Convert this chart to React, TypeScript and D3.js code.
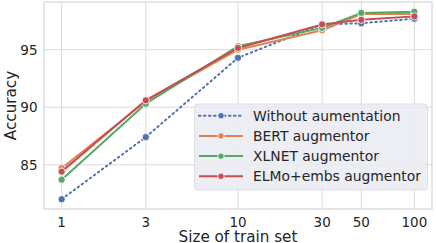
import React, { useEffect, useRef } from 'react';
import * as d3 from 'd3';

const trainSizes = [1, 3, 10, 30, 50, 100];
const withoutAug = [82.0, 87.4, 94.3, 97.2, 97.3, 97.7];
const bertAug = [84.7, 90.5, 95.0, 96.7, 98.1, 98.1];
const xlnetAug = [83.7, 90.3, 95.3, 96.9, 98.2, 98.3];
const elmoAug = [84.4, 90.6, 95.15, 97.2, 97.6, 97.9];
const yTicks = [85, 90, 95];

const series = [
  { name: 'Without aumentation', values: withoutAug, color: '#4C72B0', dash: '1.5,3.5' },
  { name: 'BERT augmentor', values: bertAug, color: '#DD8452', dash: '' },
  { name: 'XLNET augmentor', values: xlnetAug, color: '#55A868', dash: '' },
  { name: 'ELMo+embs augmentor', values: elmoAug, color: '#C44E52', dash: '' },
];

const App: React.FC = () => {
  const svgRef = useRef<SVGSVGElement | null>(null);

  useEffect(() => {
    if (!svgRef.current) return;
    const svg = d3.select(svgRef.current);
    svg.selectAll('*').remove();

    const width = 436;
    const height = 243;
    const margin = { top: 2, right: 4, bottom: 34, left: 44 };
    const font = 'DejaVu Sans, sans-serif';

    const x = d3.scaleLog()
      .domain([Math.pow(10, -0.1), Math.pow(10, 2.1)])
      .range([margin.left, width - margin.right]);
    const y = d3.scaleLinear()
      .domain([81.15, 99.15])
      .range([height - margin.bottom, margin.top]);

    svg.append('rect')
      .attr('x', 0).attr('y', 0).attr('width', width).attr('height', height)
      .attr('fill', '#fff');

    // grid
    const grid = svg.append('g').attr('stroke', '#dcdcdc').attr('stroke-width', 1);
    trainSizes.forEach(t => {
      grid.append('line')
        .attr('x1', x(t)).attr('x2', x(t))
        .attr('y1', margin.top).attr('y2', height - margin.bottom);
    });
    yTicks.forEach(t => {
      grid.append('line')
        .attr('x1', margin.left).attr('x2', width - margin.right)
        .attr('y1', y(t)).attr('y2', y(t));
    });

    // frame
    svg.append('rect')
      .attr('x', margin.left).attr('y', margin.top)
      .attr('width', width - margin.left - margin.right)
      .attr('height', height - margin.top - margin.bottom)
      .attr('fill', 'none').attr('stroke', '#d6d6d6').attr('stroke-width', 1.2);

    // tick labels
    svg.append('g').selectAll('text').data(trainSizes).join('text')
      .attr('x', d => x(d)).attr('y', 226.5)
      .attr('text-anchor', 'middle').attr('font-family', font).attr('font-size', 13.5)
      .attr('fill', '#262626').text(d => String(d));
    svg.append('g').selectAll('text').data(yTicks).join('text')
      .attr('x', margin.left - 6.5).attr('y', d => y(d) + 5)
      .attr('text-anchor', 'end').attr('font-family', font).attr('font-size', 13.5)
      .attr('fill', '#262626').text(d => String(d));

    svg.append('text')
      .attr('x', (margin.left + width - margin.right) / 2).attr('y', 241.5)
      .attr('text-anchor', 'middle').attr('font-family', font).attr('font-size', 15.2)
      .attr('fill', '#262626').text('Size of train set');
    svg.append('text')
      .attr('transform', `translate(16,${(margin.top + height - margin.bottom) / 2}) rotate(-90)`)
      .attr('text-anchor', 'middle').attr('font-family', font).attr('font-size', 15.2)
      .attr('fill', '#262626').text('Accuracy');

    const line = d3.line<number>()
      .x((_, i) => x(trainSizes[i]))
      .y(d => y(d));

    series.forEach(s => {
      const g = svg.append('g');
      g.append('path')
        .attr('d', line(s.values))
        .attr('fill', 'none').attr('stroke', s.color).attr('stroke-width', 2)
        .attr('stroke-dasharray', s.dash || null)
        .attr('stroke-linecap', s.dash ? 'round' : 'butt');
      g.selectAll('circle').data(s.values).join('circle')
        .attr('cx', (_, i) => x(trainSizes[i])).attr('cy', d => y(d))
        .attr('r', 3.6).attr('fill', s.color)
        .attr('stroke', '#fff').attr('stroke-width', 0.8);
    });

    // legend
    const lg = svg.append('g');
    lg.append('rect')
      .attr('x', 194.5).attr('y', 104).attr('width', 233).attr('height', 86)
      .attr('rx', 3).attr('fill', '#eaeaf2').attr('fill-opacity', 0.85)
      .attr('stroke', '#dedee6').attr('stroke-width', 1);
    series.forEach((s, i) => {
      const yy = 115.7 + i * 20.2;
      lg.append('line')
        .attr('x1', 199).attr('x2', 243).attr('y1', yy).attr('y2', yy)
        .attr('stroke', s.color).attr('stroke-width', 2)
        .attr('stroke-dasharray', s.dash || null)
        .attr('stroke-linecap', s.dash ? 'round' : 'butt');
      lg.append('circle')
        .attr('cx', 221).attr('cy', yy).attr('r', 3.2)
        .attr('fill', s.color).attr('stroke', '#fff').attr('stroke-width', 0.8);
      lg.append('text')
        .attr('x', 253).attr('y', yy + 5)
        .attr('font-family', font).attr('font-size', 13.9).attr('fill', '#262626')
        .text(s.name);
    });
  }, []);

  return <svg ref={svgRef} width={436} height={243} style={{ display: 'block', position: 'absolute', left: 0, top: 0 }} />;
};

export default App;
